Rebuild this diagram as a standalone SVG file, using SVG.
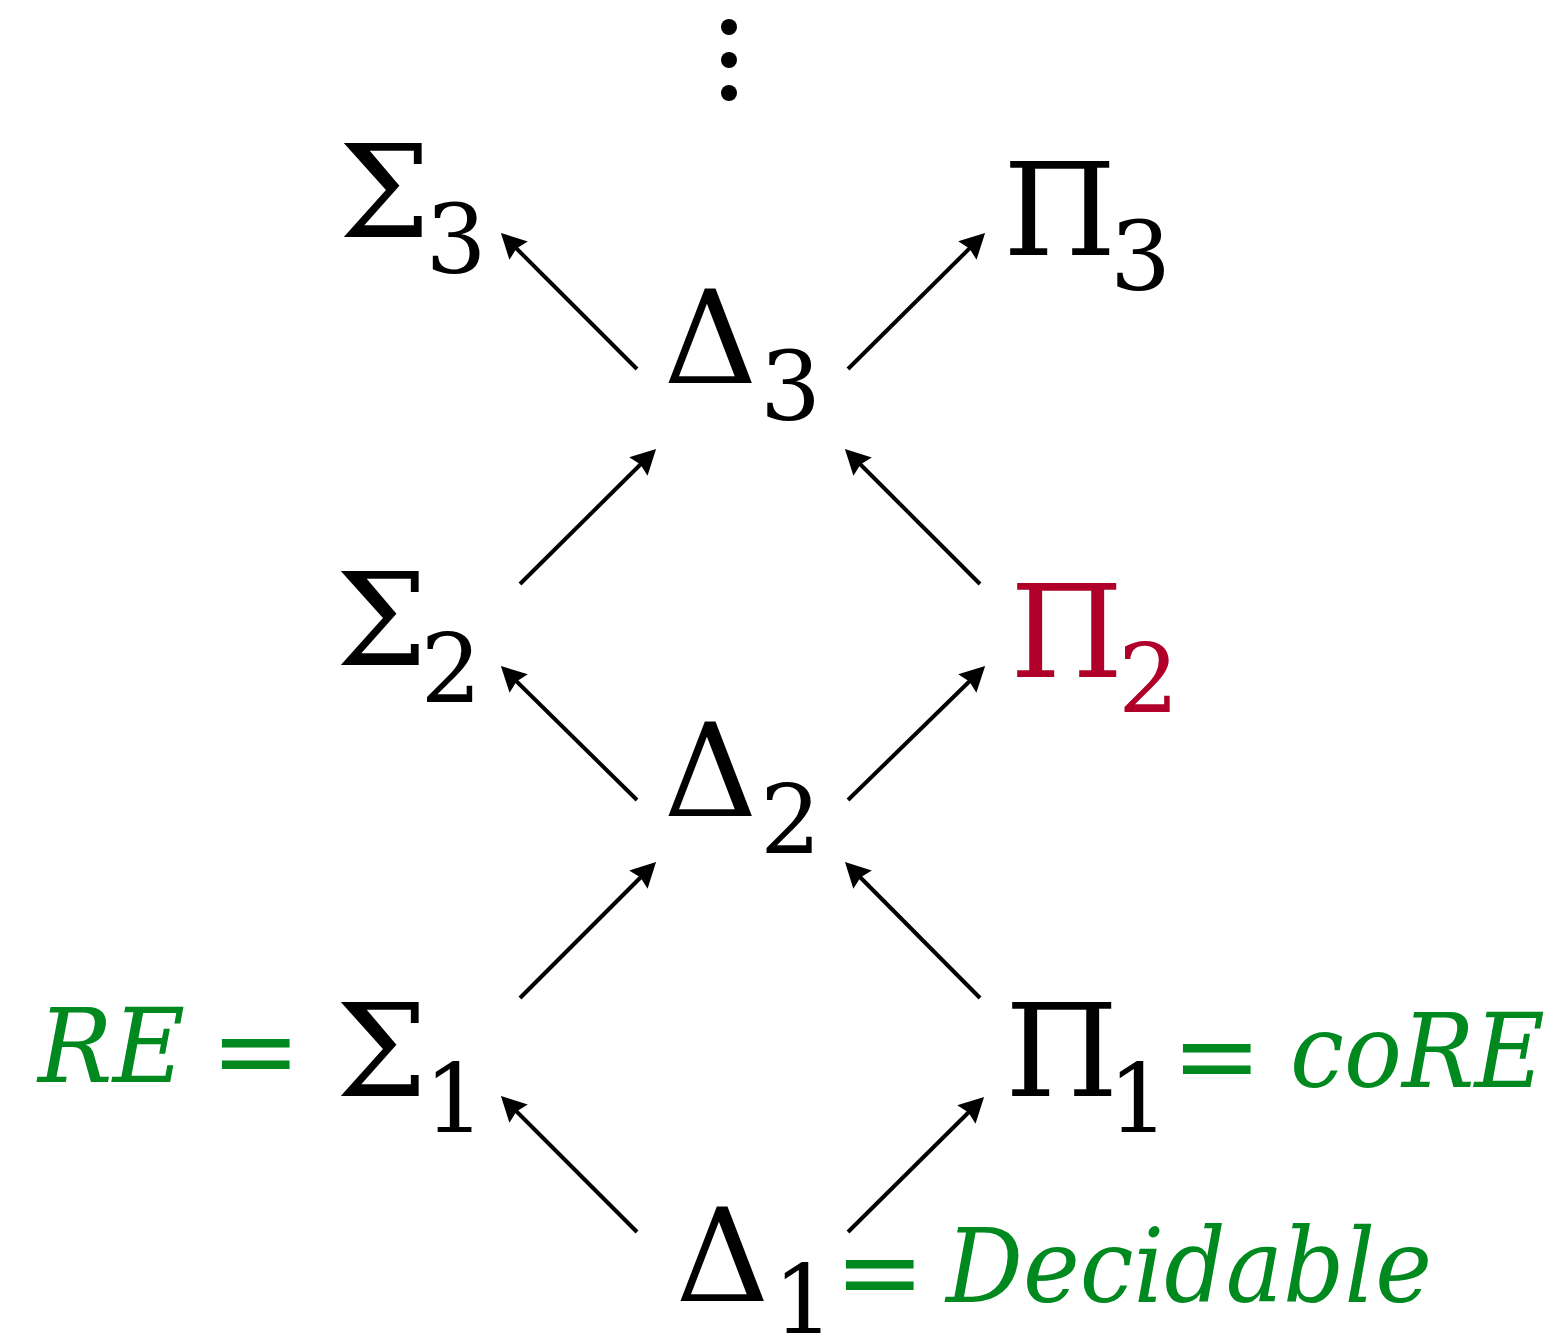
<svg xmlns="http://www.w3.org/2000/svg" width="1562" height="1337" viewBox="0 0 1562 1337">
<style>
text{fill:#000;font-family:"DejaVu Serif",serif}
.m{font-size:130px}
.s{font-size:96px}
.e{font-size:108px}
.g{fill:#00891e}
.it{font-style:italic;font-size:103px}
.r{fill:#b0002a}
.c line{stroke:#000;stroke-width:4;marker-end:url(#ah)}
</style>
<defs>
<marker id="ah" markerUnits="userSpaceOnUse" viewBox="-16 -14 28 28" refX="0" refY="0" markerWidth="28" markerHeight="28" orient="auto" overflow="visible">
<path d="M10,0 L-15,-13 L-12,0 L-15,13 Z" fill="#000"/>
</marker>
</defs>
<g id="dots"><circle cx="729" cy="27" r="8"/><circle cx="729" cy="60" r="8"/><circle cx="729" cy="93" r="8"/></g>
<g id="sigma3"><text class="m" x="338.5" y="237">Σ</text><text class="s" x="425.5" y="273">3</text></g>
<g id="delta3"><text class="m" x="663.5" y="383">Δ</text><text class="s" x="760" y="420">3</text></g>
<g id="pi3"><text class="m" x="1003" y="255">Π</text><text class="s" x="1110" y="290">3</text></g>
<g id="sigma2"><text class="m" x="335.5" y="665">Σ</text><text class="s" x="420.5" y="702">2</text></g>
<g id="pi2"><text class="m r" x="1010" y="677">Π</text><text class="s r" x="1118" y="712">2</text></g>
<g id="delta2"><text class="m" x="663.5" y="816">Δ</text><text class="s" x="760" y="853">2</text></g>
<g id="sigma1"><text class="it g" x="38" y="1082" textLength="147" lengthAdjust="spacingAndGlyphs">RE</text><text class="e g" x="210.5" y="1088">=</text><text class="m" x="335.5" y="1096">Σ</text><text class="s" x="424" y="1132">1</text></g>
<g id="pi1"><text class="m" x="1005" y="1096">Π</text><text class="s" x="1108" y="1132">1</text><text class="e g" x="1171.5" y="1093">=</text><text class="it g" x="1290" y="1087" textLength="255" lengthAdjust="spacingAndGlyphs">coRE</text></g>
<g id="delta1"><text class="m" x="675.5" y="1301">Δ</text><text class="s" x="773" y="1333">1</text><text class="e g" x="834.5" y="1309">=</text><text class="it g" x="946" y="1302" textLength="486" lengthAdjust="spacingAndGlyphs">Decidable</text></g>
<g id="connectors" class="c">
<line x1="637" y1="369" x2="508" y2="240"/>
<line x1="848" y1="369" x2="978" y2="240"/>
<line x1="520" y1="584" x2="649" y2="456"/>
<line x1="980" y1="584" x2="852" y2="456"/>
<line x1="637" y1="800" x2="508" y2="673"/>
<line x1="848" y1="800" x2="978" y2="673"/>
<line x1="520" y1="998" x2="649" y2="869"/>
<line x1="980" y1="998" x2="852" y2="869"/>
<line x1="637" y1="1232" x2="508" y2="1103"/>
<line x1="848" y1="1232" x2="977" y2="1104"/>
</g>
</svg>
